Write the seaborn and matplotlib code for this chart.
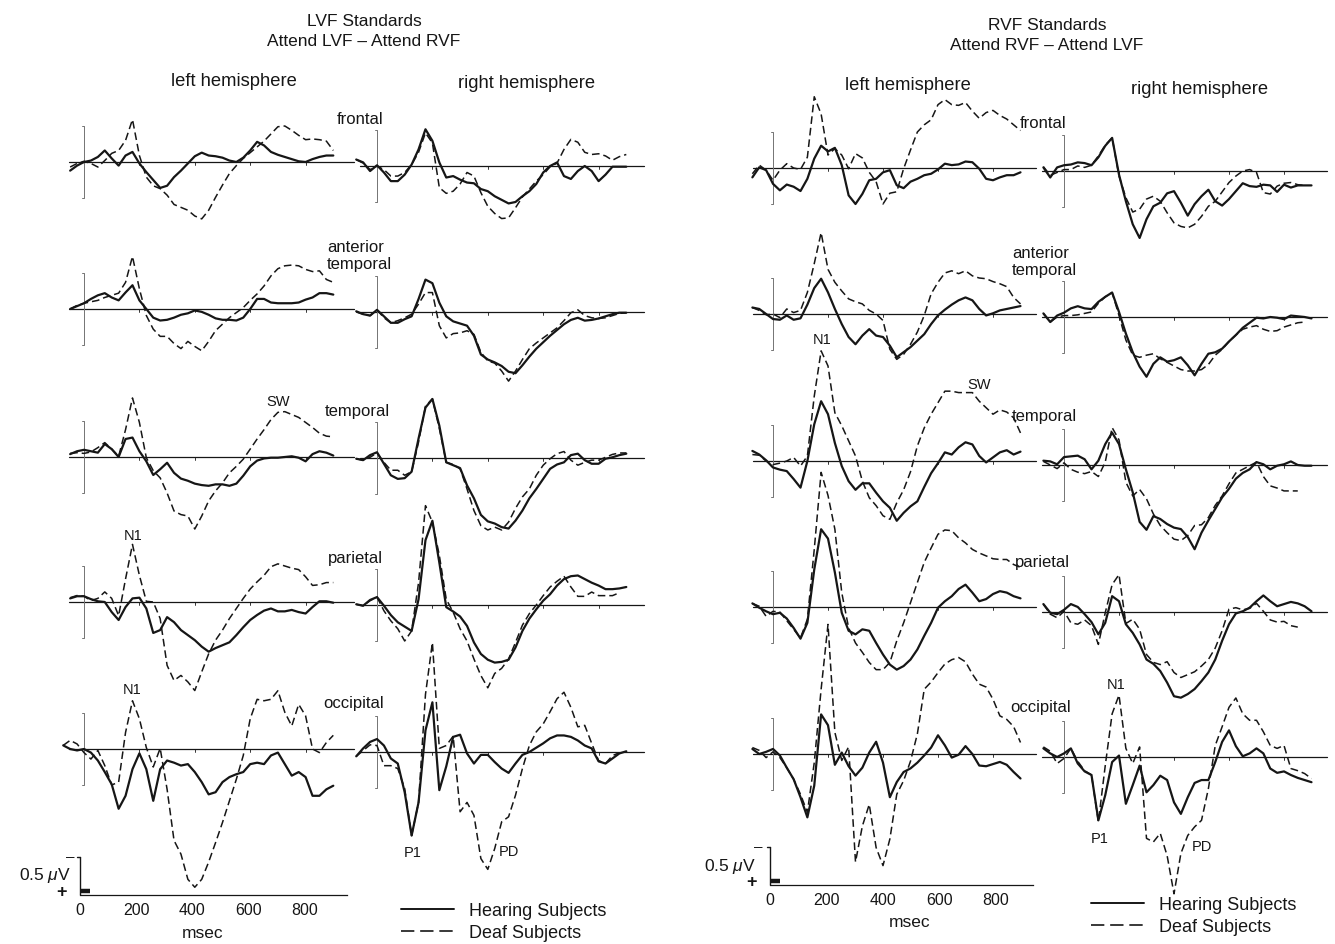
import numpy as np
import pandas as pd
import matplotlib
matplotlib.use("Agg")
import matplotlib.pyplot as plt
from matplotlib.lines import Line2D
import seaborn as sns

nan = np.nan

# time base of every trace (msec); values are in microvolts, negative drawn upward
t_ms = list(range(-75, 901, 25))

# ---- LVF standards, left hemisphere ----
lvf_lh_frontal_hear = [nan, .12, .05, 0, -.02, -.07, -.16, -.05, .05, -.09,
                       -.14, .02, .14, .25, .36, .33, .21, .12, .02, -.08,
                       -.13, -.09, -.08, -.06, -.02, 0, -.06, -.16, -.28, -.23,
                       -.14, -.10, -.07, -.04, -.01, 0, -.04, -.07, -.09, -.09]
lvf_lh_frontal_deaf = [nan, .07, .02, -.01, .02, .07, -.02, -.12, -.16, -.30,
                       -.59, -.09, .21, .33, .37, .46, .59, .63, .67, .75,
                       .79, .67, .49, .32, .16, .05, -.05, -.13, -.21, -.29,
                       -.39, -.49, -.50, -.44, -.37, -.31, -.32, -.31, -.29, -.16]
lvf_lh_anttemp_hear = [nan, 0, -.04, -.08, -.14, -.19, -.22, -.16, -.12, -.23,
                       -.33, -.12, 0, .12, .16, .15, .12, .08, .06, .02,
                       .04, .08, .13, .15, .15, .16, .12, 0, -.14, -.14,
                       -.09, -.08, -.08, -.08, -.09, -.13, -.16, -.22, -.22, -.20]
lvf_lh_anttemp_deaf = [nan, 0, -.05, -.08, -.10, -.12, -.16, -.19, -.22, -.37,
                       -.73, -.28, .09, .28, .38, .38, .48, .55, .45, .52,
                       .58, .45, .30, .21, .12, .05, -.02, -.12, -.21, -.32,
                       -.46, -.56, -.60, -.61, -.60, -.55, -.52, -.53, -.41, -.37]
lvf_lh_temporal_hear = [nan, -.04, -.08, -.10, -.08, -.06, -.18, -.11, 0, -.25,
                        -.27, -.08, .06, .25, .17, .08, .22, .30, .33, .37,
                        .39, .40, .38, .38, .40, .37, .26, .13, .05, .02,
                        .01, .01, 0, -.01, .01, .06, -.04, -.08, -.06, -.02]
lvf_lh_temporal_deaf = [nan, -.05, -.06, -.05, -.07, -.13, -.20, -.11, -.01, -.38,
                        -.82, -.48, .01, .19, .29, .50, .75, .80, .82, 1.00,
                        .82, .61, .47, .36, .22, .13, .03, -.11, -.25, -.38,
                        -.52, -.62, -.63, -.59, -.55, -.48, -.41, -.33, -.29, -.28]
lvf_lh_parietal_hear = [nan, -.05, -.08, -.08, -.04, -.01, 0, .14, .25, .07,
                        -.05, -.06, .09, .43, .39, .21, .28, .39, .46, .53,
                        .62, .69, .64, .60, .56, .46, .35, .25, .18, .12,
                        .09, .13, .13, .11, .14, .16, .07, -.01, -.01, .01]
lvf_lh_parietal_deaf = [nan, -.06, -.09, -.08, -.02, -.05, -.14, -.05, .19, -.32,
                        -.80, -.37, -.01, 0, .23, .88, 1.09, 1.02, 1.11, 1.23,
                        .97, .72, .53, .39, .23, .09, -.05, -.18, -.28, -.37,
                        -.49, -.53, -.50, -.47, -.45, -.35, -.23, -.24, -.27, -.27]
lvf_lh_occipital_hear = [-.05, 0, .02, 0, .05, .16, .32, .49, .83, .65,
                         .28, .06, .28, .72, .28, .16, .19, .23, .21, .32,
                         .46, .63, .60, .46, .39, .35, .32, .21, .19, .21,
                         .09, .05, .21, .37, .32, .39, .65, .65, .56, .51]
lvf_lh_occipital_deaf = [-.05, -.12, -.07, .05, .14, .02, .23, .50, .46, -.23,
                         -.67, -.42, -.02, .25, -.01, .56, 1.27, 1.46, 1.81, 1.92,
                         1.81, 1.57, 1.30, 1.02, .72, .42, .09, -.42, -.69, -.67,
                         -.69, -.81, -.51, -.32, -.62, -.46, 0, .05, -.09, -.19]

# ---- LVF standards, right hemisphere ----
lvf_rh_frontal_hear = [-.09, -.05, .07, -.01, .09, .21, .21, .12, -.02, -.23,
                       -.51, -.35, -.05, .16, .14, .19, .23, .24, .32, .35,
                       .42, .47, .52, .50, .42, .35, .25, .09, 0, -.05,
                       .14, .18, .07, 0, .07, .21, .12, .01, .01, .01]
lvf_rh_frontal_deaf = [-.09, -.04, .05, 0, .05, .14, .14, .09, -.02, -.19,
                       -.46, -.32, .30, .38, .35, .25, .09, .14, .37, .56,
                       .66, .73, .72, .58, .43, .32, .21, .12, .01, -.04,
                       -.23, -.37, -.33, -.19, -.16, -.17, -.14, -.08, -.13, -.16]
lvf_rh_anttemp_hear = [-.01, .03, .05, -.03, .06, .15, .15, .10, .06, -.18,
                       -.45, -.40, -.13, .06, .13, .16, .19, .33, .59, .66,
                       .70, .75, .83, .85, .74, .62, .51, .42, .33, .25,
                       .17, .11, .08, .12, .11, .09, .06, .03, .01, .01]
lvf_rh_anttemp_deaf = [0, .03, .05, -.03, .08, .15, .12, .08, .03, -.11,
                       -.27, -.27, .19, .36, .30, .29, .26, .31, .56, .68,
                       .71, .82, .96, .82, .66, .51, .43, .36, .29, .22,
                       .12, .01, -.03, .05, .08, .09, .08, .05, .02, .01]
lvf_rh_temporal_hear = [.01, .03, -.04, -.08, .08, .24, .29, .28, .19, -.27,
                        -.70, -.82, -.45, .06, .10, .14, .38, .56, .79, .88,
                        .91, .96, .98, .87, .73, .56, .43, .29, .15, .09,
                        .06, -.04, -.06, .03, .08, .08, .01, -.01, -.04, -.06]
lvf_rh_temporal_deaf = [.01, .03, -.01, -.07, .06, .17, .17, .24, .19, -.22,
                        -.72, -.82, -.41, .06, .09, .15, .43, .73, .94, 1.00,
                        .96, 1.00, .89, .70, .54, .43, .24, .10, .01, -.06,
                        -.09, .03, .10, .06, .03, .03, -.01, -.05, -.07, -.07]
lvf_rh_parietal_hear = [-.01, .01, -.07, -.11, .01, .14, .24, .30, .36, -.08,
                        -.90, -1.17, -.59, .03, .09, .16, .29, .52, .68, .76,
                        .80, .79, .76, .59, .36, .19, .06, -.06, -.15, -.27,
                        -.36, -.40, -.41, -.36, -.31, -.27, -.22, -.22, -.23, -.25]
lvf_rh_parietal_deaf = [-.01, .01, -.06, -.11, .08, .22, .33, .50, .36, -.31,
                        -1.38, -1.15, -.69, -.08, .10, .33, .50, .75, .98, 1.15,
                        .95, .88, .75, .52, .28, .12, 0, -.13, -.25, -.33,
                        -.40, -.25, -.12, -.12, -.18, -.13, -.13, -.13, -.17, nan]
lvf_rh_occipital_hear = [.06, -.05, -.14, -.18, -.09, .09, .16, .56, 1.16, .70,
                         -.30, -.69, .53, .20, -.21, -.24, .02, .16, .04, .04,
                         .14, .23, .29, .16, .04, 0, -.06, -.12, -.19, -.23,
                         -.23, -.21, -.16, -.09, -.05, .13, .16, .09, .02, -.01]
lvf_rh_occipital_deaf = [.06, -.02, -.10, -.09, .19, .19, .23, .51, 1.16, .70,
                         -.80, -1.52, -.05, -.09, -.22, .83, .70, .88, 1.48, 1.63,
                         1.34, .97, .90, .60, .23, -.09, -.28, -.39, -.56, -.74,
                         -.83, -.62, -.35, -.37, -.12, .12, .16, .05, .01, nan]

# ---- RVF standards, left hemisphere ----
rvf_lh_frontal_hear = [.13, -.01, .03, .22, .31, .23, .26, .32, .15, -.13,
                       -.31, -.23, -.28, -.04, .38, .50, .36, .17, .15, .06,
                       .03, .24, .28, .19, .15, .10, .08, .02, -.06, -.04,
                       -.05, -.09, -.08, .01, .15, .17, .13, .10, .10, .06]
rvf_lh_frontal_deaf = [.08, -.04, .03, .17, .03, -.06, 0, .02, -.15, -.99,
                       -.75, -.18, -.27, -.18, .01, -.20, -.14, .06, .19, .50,
                       .35, .33, .01, -.25, -.50, -.60, -.67, -.88, -.95, -.88,
                       -.87, -.91, -.79, -.69, -.77, -.80, -.73, -.68, -.60, -.52]
rvf_lh_anttemp_hear = [-.09, -.07, 0, .07, .08, .02, .08, .06, -.13, -.36,
                       -.49, -.30, -.07, .14, .32, .42, .30, .21, .30, .32,
                       .44, .60, .53, .46, .37, .28, .14, .02, -.06, -.13,
                       -.19, -.23, -.19, -.07, .02, -.01, -.05, -.07, -.09, -.11]
rvf_lh_anttemp_deaf = [-.09, -.05, .01, 0, .05, -.07, -.02, -.05, -.30, -.70,
                       -1.13, -.62, -.44, -.32, -.21, -.17, -.14, -.05, 0, .09,
                       .49, .63, .56, .42, .25, .02, -.28, -.44, -.57, -.60,
                       -.56, -.60, -.53, -.50, -.49, -.45, -.42, -.38, -.23, -.14]
rvf_lh_temporal_hear = [-.14, -.09, -.01, .09, .12, .14, .25, .37, 0, -.51,
                        -.83, -.65, -.25, .07, .28, .40, .31, .31, .44, .56,
                        .65, .83, .72, .63, .56, .36, .17, .03, -.12, -.09,
                        -.19, -.26, -.23, -.07, .02, -.05, -.12, -.15, -.09, -.13]
rvf_lh_temporal_deaf = [-.09, -.08, 0, .05, .03, 0, -.05, .07, -.07, -.90,
                        -1.53, -1.32, -.67, -.49, -.28, -.07, .28, .51, .62, .76,
                        .81, .58, .40, .15, -.21, -.46, -.65, -.81, -.97, -.97,
                        -.95, -.95, -.95, -.83, -.74, -.65, -.71, -.68, -.60, -.39]
rvf_lh_parietal_hear = [-.05, .01, .06, .10, .08, .16, .29, .44, .22, -.52,
                        -1.08, -.95, -.48, .08, .33, .38, .31, .33, .50, .66,
                        .80, .87, .82, .73, .59, .40, .22, .01, -.08, -.15,
                        -.25, -.31, -.20, -.08, -.11, -.18, -.22, -.20, -.15, -.12]
rvf_lh_parietal_deaf = [-.05, -.01, .13, .06, .07, .19, .31, .43, .17, -.80,
                        -1.87, -1.55, -1.08, -.20, .29, .50, .63, .77, .87, .87,
                        .77, .47, .22, -.06, -.34, -.62, -.82, -1.01, -1.07, -1.06,
                        -.96, -.89, -.80, -.75, -.71, -.67, -.66, -.66, -.59, -.55]
rvf_lh_occipital_hear = [-.07, 0, -.03, -.07, .02, .19, .35, .60, .88, .44,
                         -.55, -.40, .15, -.02, .17, .30, .19, -.02, -.17, .12,
                         .60, .39, .25, .20, .12, .02, -.09, -.26, -.12, .05,
                         .01, -.11, 0, .16, .17, .14, .11, .15, .25, .34]
rvf_lh_occipital_deaf = [-.09, -.05, .05, -.03, .05, .19, .35, .56, .81, .12,
                         -.90, -1.80, -.30, .09, -.10, 1.50, 1.00, .70, 1.30, 1.55,
                         1.18, .56, .37, .10, -.28, -.90, -1.00, -1.13, -1.25, -1.31,
                         -1.34, -1.28, -1.11, -.97, -.93, -.76, -.53, -.48, -.38, -.16]

# ---- RVF standards, right hemisphere ----
rvf_rh_frontal_hear = [-.05, .09, -.05, -.08, -.09, -.12, -.11, -.08, -.19, -.35,
                       -.46, .05, .42, .74, .93, .67, .49, .44, .31, .28,
                       .44, .62, .46, .35, .26, .42, .48, .39, .28, .17,
                       .21, .22, .19, .20, .29, .19, .23, .20, .20, .20]
rvf_rh_frontal_deaf = [-.06, .06, .02, -.02, -.02, -.07, -.05, -.08, -.21, -.36,
                       -.46, .07, .37, .57, .53, .39, .35, .42, .58, .72,
                       .77, .79, .74, .63, .49, .42, .29, .16, .07, 0,
                       -.02, .02, .30, .32, .21, .17, .16, .19, .20, nan]
rvf_rh_anttemp_hear = [-.05, .07, -.02, -.06, -.12, -.15, -.12, -.11, -.21, -.28,
                       -.34, -.07, .23, .49, .69, .83, .65, .56, .62, .60,
                       .56, .67, .81, .65, .51, .49, .44, .34, .25, .15,
                       .08, .01, .02, 0, .01, .03, -.02, -.01, 0, .02]
rvf_rh_anttemp_deaf = [-.05, .07, 0, -.02, -.02, -.03, -.05, -.07, -.19, -.28,
                       -.34, -.02, .32, .53, .56, .53, .51, .58, .63, .68,
                       .73, .75, .75, .73, .66, .53, .45, .34, .25, .17,
                       .14, .12, .17, .20, .19, .14, .11, .08, .07, nan]
rvf_rh_temporal_hear = [-.06, -.05, -.01, -.11, -.12, -.13, -.08, .06, -.06, -.29,
                        -.45, -.29, .06, .38, .79, .90, .71, .75, .82, .87,
                        .89, 1.00, 1.17, .94, .77, .61, .45, .33, .19, .11,
                        .06, -.04, -.01, .06, .01, -.01, -.05, 0, .01, .01]
rvf_rh_temporal_deaf = [-.05, 0, .05, -.03, .06, .10, .12, .09, .16, -.04,
                        -.52, -.35, .24, .43, .34, .47, .68, .84, .94, 1.03,
                        1.05, .98, .84, .83, .73, .56, .43, .26, .11, .06,
                        .01, -.04, .16, .29, .32, .36, .36, .36, nan, nan]
rvf_rh_parietal_hear = [-.11, .01, .03, -.03, -.11, -.07, .03, .14, .31, .15,
                        -.22, -.15, .17, .29, .45, .66, .72, .82, .98, 1.17,
                        1.19, 1.14, 1.07, .96, .84, .66, .40, .17, .02, -.01,
                        -.06, -.15, -.23, -.15, -.08, -.11, -.14, -.12, -.08, -.01]
rvf_rh_parietal_deaf = [-.11, .03, .08, -.01, .15, .17, .11, .19, .45, .01,
                        -.38, -.52, .16, .10, .24, .59, .70, .73, .69, .84,
                        .91, .87, .83, .75, .66, .50, .26, -.04, -.06, -.03,
                        -.05, -.12, -.01, .11, .14, .13, .19, .21, nan, nan]
rvf_rh_occipital_hear = [-.12, -.05, 0, -.05, -.12, .09, .20, .25, .88, .53,
                         .07, -.02, .65, .39, .12, .49, .39, .26, .32, .63,
                         .79, .56, .36, .32, .32, .07, -.21, -.37, -.15, -.01,
                         -.05, -.12, -.05, .16, .22, .20, .25, .29, .32, .35]
rvf_rh_occipital_deaf = [-.14, -.08, .09, .02, -.12, .06, .19, .25, .90, .12,
                         -.60, -.86, -.12, .09, -.14, 1.13, 1.18, 1.06, 1.37, 1.90,
                         1.34, 1.09, .97, .88, .44, -.16, -.42, -.69, -.82, -.60,
                         -.51, -.51, -.35, -.16, -.12, -.16, .16, .19, .23, .30]

electrodes = ["frontal", "anterior temporal", "temporal", "parietal", "occipital"]
time_ticks = [0, 200, 400, 600, 800]

hear_traces = {
    "lvf_lh": [lvf_lh_frontal_hear, lvf_lh_anttemp_hear, lvf_lh_temporal_hear, lvf_lh_parietal_hear, lvf_lh_occipital_hear],
    "lvf_rh": [lvf_rh_frontal_hear, lvf_rh_anttemp_hear, lvf_rh_temporal_hear, lvf_rh_parietal_hear, lvf_rh_occipital_hear],
    "rvf_lh": [rvf_lh_frontal_hear, rvf_lh_anttemp_hear, rvf_lh_temporal_hear, rvf_lh_parietal_hear, rvf_lh_occipital_hear],
    "rvf_rh": [rvf_rh_frontal_hear, rvf_rh_anttemp_hear, rvf_rh_temporal_hear, rvf_rh_parietal_hear, rvf_rh_occipital_hear],
}
deaf_traces = {
    "lvf_lh": [lvf_lh_frontal_deaf, lvf_lh_anttemp_deaf, lvf_lh_temporal_deaf, lvf_lh_parietal_deaf, lvf_lh_occipital_deaf],
    "lvf_rh": [lvf_rh_frontal_deaf, lvf_rh_anttemp_deaf, lvf_rh_temporal_deaf, lvf_rh_parietal_deaf, lvf_rh_occipital_deaf],
    "rvf_lh": [rvf_lh_frontal_deaf, rvf_lh_anttemp_deaf, rvf_lh_temporal_deaf, rvf_lh_parietal_deaf, rvf_lh_occipital_deaf],
    "rvf_rh": [rvf_rh_frontal_deaf, rvf_rh_anttemp_deaf, rvf_rh_temporal_deaf, rvf_rh_parietal_deaf, rvf_rh_occipital_deaf],
}
for key in hear_traces:
    for a, b in zip(hear_traces[key], deaf_traces[key]):
        assert len(a) == len(t_ms) and len(b) == len(t_ms), key

# ---- layout (pixels of the 1335x945 page) ----
W, H = 1335, 945
UV_PX = 72.0          # pixels per microvolt
INK = "#161616"
DASH = (0, (5, 2.6))

# time zero x, px per msec, baseline y of each row, extent of the zero line
columns = {
    "lvf_lh": dict(x0=84, k=0.277, bases=[163, 310, 458, 603, 750], span=(-55, 975)),
    "lvf_rh": dict(x0=377, k=0.277, bases=[167, 313, 459, 606, 753], span=(-62, 965)),
    "rvf_lh": dict(x0=773, k=0.275, bases=[169, 315, 462, 608, 755], span=(-72, 955)),
    "rvf_rh": dict(x0=1064, k=0.275, bases=[172, 318, 466, 613, 758], span=(-80, 958)),
}

sns.set_style("white")
plt.rcParams["font.family"] = ["Liberation Sans", "DejaVu Sans"]
plt.rcParams["mathtext.fontset"] = "custom"
plt.rcParams["mathtext.it"] = "Liberation Sans:italic"
plt.rcParams["mathtext.rm"] = "Liberation Sans"

fig = plt.figure(figsize=(W / 100, H / 100), dpi=100)
fig.patch.set_facecolor("white")


def px_axes(x0, k, base, t_lo=-110, t_hi=1000, v_lo=-2.4, v_hi=2.4):
    left = x0 + k * t_lo
    width = k * (t_hi - t_lo)
    top = base + UV_PX * v_lo
    height = UV_PX * (v_hi - v_lo)
    ax = fig.add_axes([left / W, 1 - (top + height) / H, width / W, height / H])
    ax.set_xlim(t_lo, t_hi)
    ax.set_ylim(v_hi, v_lo)   # negative up
    ax.set_axis_off()
    ax.patch.set_alpha(0)
    return ax


def ftext(x, y, s, **kw):
    kw.setdefault("color", INK)
    fig.text(x / W, 1 - y / H, s, **kw)


for key, geo in columns.items():
    for row, base in enumerate(geo["bases"]):
        ax = px_axes(geo["x0"], geo["k"], base)
        ax.plot(geo["span"], [0, 0], color=INK, lw=0.9)
        for tt in time_ticks[1:]:
            ax.plot([tt, tt], [0, 0.045], color=INK, lw=0.6)
        # +-0.5 uV bracket at stimulus onset
        ax.plot([-9, 0, 0, -9], [-0.5, -0.5, 0.5, 0.5], color="0.45", lw=0.7)

        hear = pd.DataFrame({"t": t_ms, "uv": hear_traces[key][row]}).dropna()
        deaf = pd.DataFrame({"t": t_ms, "uv": deaf_traces[key][row]}).dropna()
        sns.lineplot(data=hear, x="t", y="uv", ax=ax, color=INK, lw=1.6,
                     estimator=None, sort=False, legend=False)
        sns.lineplot(data=deaf, x="t", y="uv", ax=ax, color=INK, lw=1.1,
                     linestyle=DASH, estimator=None, sort=False, legend=False)
        ax.set_xlim(-110, 1000)
        ax.set_ylim(2.4, -2.4)


def time_axis(x0, k, y_axis, t_end, stim_y):
    t_lo, t_hi = -100, 1050
    h = 48
    ax = fig.add_axes([(x0 + k * t_lo) / W, 1 - y_axis / H, k * (t_hi - t_lo) / W, h / H])
    ax.set_xlim(t_lo, t_hi)
    ax.set_ylim(0, -h / UV_PX)
    ax.patch.set_alpha(0)
    for side in ("top", "left", "right"):
        ax.spines[side].set_visible(False)
    ax.spines["bottom"].set_bounds(0, t_end)
    ax.spines["bottom"].set_linewidth(0.9)
    ax.spines["bottom"].set_color(INK)
    ax.set_xticks(time_ticks)
    ax.set_xticks(range(100, 1000, 100), minor=True)
    ax.tick_params(axis="x", which="major", direction="in", length=4, width=0.8,
                   labelsize=11.5, pad=5, colors=INK)
    ax.tick_params(axis="x", which="minor", direction="in", length=2.5, width=0.6, colors=INK)
    ax.set_yticks([])
    ax.set_xlabel("")
    # 0.5 uV calibration bar and stimulus marker
    ax.plot([0, 0], [0, -0.53], color=INK, lw=1.0)
    ax.plot([-12, 0], [-0.53, -0.53], color=INK, lw=1.0)
    ax.plot([2, 36], [stim_y, stim_y], color=INK, lw=3.2, solid_capstyle="butt")
    return ax


time_axis(80, 0.281, 896, 950, -0.06)
time_axis(770, 0.2825, 886, 930, -0.06)

# calibration text
ftext(45, 876, r"0.5 $\mathit{\mu}$V", fontsize=12.5, ha="center", va="center")
ftext(70, 857, "\u2013", fontsize=11, ha="center", va="center")
ftext(62, 893, "+", fontsize=13, ha="center", va="center", fontweight="bold")
ftext(730, 867, r"0.5 $\mathit{\mu}$V", fontsize=12.5, ha="center", va="center")
ftext(758, 847, "\u2013", fontsize=11, ha="center", va="center")
ftext(752, 883, "+", fontsize=13, ha="center", va="center", fontweight="bold")
ftext(203, 934, "msec", fontsize=12.5, ha="center", va="center")
ftext(910, 923, "msec", fontsize=12.5, ha="center", va="center")

# titles
ftext(364, 21, "LVF Standards", fontsize=12.5, ha="center", va="center")
ftext(364, 41, "Attend LVF \u2013 Attend RVF", fontsize=12.5, ha="center", va="center")
ftext(1047, 25, "RVF Standards", fontsize=12.5, ha="center", va="center")
ftext(1047, 46, "Attend RVF \u2013 Attend LVF", fontsize=12.5, ha="center", va="center")

ftext(234, 81, "left hemisphere", fontsize=13.2, ha="center", va="center")
ftext(527, 84, "right hemisphere", fontsize=13.2, ha="center", va="center")
ftext(908, 86, "left hemisphere", fontsize=13.2, ha="center", va="center")
ftext(1200, 90, "right hemisphere", fontsize=13.2, ha="center", va="center")

# electrode labels (anterior temporal is set on two lines)
lvf_label_pos = [(337, 120), (327, 247), (325, 412), (328, 558), (323, 704)]
rvf_label_pos = [(1020, 124), (1012, 253), (1012, 417), (1015, 563), (1010, 708)]
for pos in (lvf_label_pos, rvf_label_pos):
    for name, (x, y) in zip(electrodes, pos):
        words = name.split(" ")
        for i, w in enumerate(words):
            ftext(x, y + 17 * i, w, fontsize=12, ha="left", va="center")

# component labels
for s, x, y in [("SW", 278, 402), ("N1", 133, 536), ("N1", 132, 690),
                ("P1", 413, 853), ("PD", 509, 852),
                ("N1", 822, 340), ("SW", 979, 385),
                ("N1", 1116, 685), ("P1", 1100, 839), ("PD", 1202, 847)]:
    ftext(x, y, s, fontsize=10.5, ha="center", va="center")

# legends
handles = [Line2D([], [], color=INK, lw=1.4),
           Line2D([], [], color=INK, lw=1.2, linestyle=(0, (8, 3.5)))]
labels = ["Hearing Subjects", "Deaf Subjects"]
for x, y in [(401, 903), (1091, 897)]:
    fig.legend(handles, labels, loc="upper left", bbox_to_anchor=(x / W, 1 - y / H),
               frameon=False, fontsize=13, handlelength=2.95, handletextpad=0.8,
               labelspacing=0.3, borderpad=0, borderaxespad=0, labelcolor=INK)

fig.savefig("out.png", dpi=100, facecolor="white")
